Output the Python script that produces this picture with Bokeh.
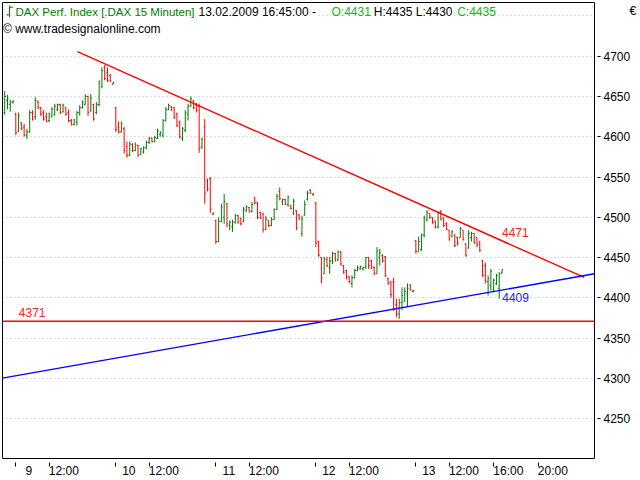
from bokeh.plotting import figure
from bokeh.models import Range1d, FixedTicker, Label, ColumnDataSource, Span, LinearAxis
from bokeh.transform import dodge
from bokeh.embed import file_html
from bokeh.resources import INLINE

# ---------------- data (15-minute bars, index 0 = 09.02.2009 09:00) ----------------
bar_index = list(range(-4, 176))

open_ = [
    4630, 4645, 4640, 4643,
    # 9 Feb
    4628, 4607, 4617, 4612, 4602, 4606, 4630, 4625, 4643, 4636, 4630, 4625,
    4620, 4625, 4628, 4634, 4640, 4631, 4636, 4630, 4620, 4615, 4618, 4630,
    4636, 4640, 4650, 4632, 4640, 4630, 4640, 4662, 4686, 4680, 4676, 4665,
    # 10 Feb
    4636, 4612, 4606, 4610, 4588, 4577, 4590, 4583, 4589, 4578, 4581, 4586,
    4593, 4598, 4594, 4598, 4603, 4602, 4620, 4634, 4637, 4636, 4628, 4618,
    4598, 4608, 4628, 4638, 4645, 4640, 4638, 4587, 4612, 4545, 4548, 4504,
    # 11 Feb
    4496, 4470, 4495, 4500, 4517, 4490, 4488, 4494, 4502, 4498, 4495, 4508,
    4512, 4507, 4525, 4518, 4506, 4504, 4485, 4496, 4490, 4497, 4510, 4532,
    4520, 4522, 4516, 4515, 4505, 4508, 4503, 4480, 4503, 4522, 4534, 4528,
    # 12 Feb
    4518, 4470, 4450, 4430, 4448, 4438, 4446, 4455, 4447, 4457, 4440, 4434,
    4426, 4418, 4425, 4434, 4436, 4436, 4438, 4450, 4446, 4438, 4430, 4450,
    4453, 4451, 4424, 4420, 4420, 4392, 4380, 4394, 4396, 4405, 4416, 4408,
    # 13 Feb
    4471, 4457, 4460, 4478, 4497, 4505, 4500, 4495, 4488, 4507, 4500, 4492,
    4484, 4476, 4478, 4475, 4475, 4484, 4467, 4462, 4475, 4480, 4475, 4468,
    4446, 4440, 4420, 4415, 4410, 4418, 4412, 4431,
]
high = [
    4657, 4652, 4646, 4645,
    4630, 4630, 4618, 4616, 4610, 4633, 4633, 4649, 4645, 4637, 4633, 4630,
    4630, 4637, 4641, 4641, 4641, 4641, 4637, 4634, 4622, 4622, 4632, 4639,
    4645, 4653, 4651, 4653, 4641, 4643, 4670, 4686, 4689, 4686, 4678, 4668,
    4637, 4619, 4619, 4612, 4594, 4594, 4592, 4593, 4590, 4586, 4588, 4595,
    4600, 4599, 4601, 4610, 4607, 4622, 4637, 4641, 4638, 4637, 4630, 4620,
    4612, 4633, 4641, 4650, 4645, 4642, 4641, 4599, 4622, 4548, 4550, 4506,
    4497, 4500, 4517, 4529, 4518, 4496, 4497, 4504, 4503, 4500, 4513, 4515,
    4513, 4519, 4525, 4519, 4507, 4506, 4502, 4496, 4500, 4511, 4529, 4537,
    4523, 4523, 4527, 4515, 4523, 4509, 4504, 4502, 4521, 4533, 4535, 4530,
    4519, 4471, 4451, 4451, 4451, 4451, 4457, 4456, 4459, 4458, 4441, 4435,
    4427, 4428, 4436, 4440, 4440, 4438, 4451, 4451, 4447, 4439, 4463, 4461,
    4454, 4452, 4425, 4421, 4425, 4399, 4399, 4413, 4413, 4418, 4417, 4410,
    4472, 4476, 4480, 4502, 4509, 4505, 4500, 4496, 4507, 4509, 4500, 4494,
    4484, 4484, 4479, 4476, 4488, 4484, 4468, 4484, 4482, 4480, 4475, 4471,
    4447, 4444, 4428, 4436, 4424, 4430, 4432, 4435,
]
low = [
    4627, 4634, 4631, 4641,
    4602, 4606, 4608, 4600, 4597, 4605, 4620, 4621, 4634, 4626, 4620, 4618,
    4618, 4624, 4626, 4632, 4628, 4630, 4626, 4618, 4614, 4614, 4614, 4626,
    4635, 4640, 4626, 4631, 4620, 4628, 4638, 4660, 4670, 4668, 4668, 4665,
    4606, 4604, 4605, 4579, 4574, 4576, 4581, 4582, 4575, 4577, 4579, 4585,
    4591, 4593, 4593, 4597, 4600, 4599, 4619, 4633, 4632, 4622, 4612, 4598,
    4595, 4606, 4620, 4637, 4634, 4630, 4580, 4585, 4517, 4532, 4505, 4503,
    4467, 4469, 4494, 4492, 4488, 4484, 4482, 4492, 4492, 4490, 4494, 4507,
    4506, 4506, 4516, 4498, 4498, 4481, 4484, 4488, 4489, 4497, 4509, 4521,
    4515, 4515, 4513, 4510, 4503, 4484, 4497, 4476, 4502, 4521, 4529, 4527,
    4463, 4451, 4418, 4430, 4438, 4430, 4442, 4445, 4446, 4440, 4430, 4423,
    4418, 4413, 4424, 4433, 4435, 4434, 4436, 4436, 4436, 4428, 4430, 4440,
    4444, 4426, 4416, 4400, 4384, 4376, 4374, 4385, 4395, 4390, 4409, 4407,
    4455, 4457, 4458, 4475, 4495, 4498, 4492, 4486, 4486, 4496, 4488, 4484,
    4471, 4475, 4463, 4465, 4475, 4471, 4451, 4461, 4470, 4467, 4463, 4457,
    4426, 4418, 4403, 4409, 4407, 4416, 4399, 4430,
]
close = [
    4650, 4648, 4643, 4644,
    4605, 4626, 4610, 4602, 4606, 4630, 4622, 4645, 4636, 4628, 4622, 4619,
    4628, 4634, 4638, 4640, 4630, 4639, 4628, 4620, 4615, 4621, 4630, 4636,
    4642, 4650, 4630, 4648, 4622, 4640, 4668, 4682, 4672, 4670, 4669, 4667,
    4609, 4606, 4616, 4583, 4577, 4591, 4583, 4590, 4577, 4585, 4587, 4593,
    4598, 4594, 4599, 4608, 4605, 4620, 4634, 4639, 4633, 4624, 4614, 4600,
    4610, 4630, 4638, 4647, 4636, 4633, 4585, 4597, 4530, 4535, 4510, 4505,
    4470, 4495, 4513, 4520, 4492, 4494, 4494, 4502, 4494, 4492, 4510, 4513,
    4507, 4516, 4518, 4500, 4499, 4485, 4498, 4490, 4497, 4510, 4526, 4523,
    4522, 4516, 4525, 4511, 4520, 4487, 4498, 4498, 4516, 4530, 4530, 4529,
    4468, 4453, 4425, 4448, 4440, 4446, 4455, 4447, 4457, 4442, 4432, 4426,
    4420, 4425, 4434, 4438, 4439, 4438, 4450, 4440, 4437, 4430, 4458, 4456,
    4446, 4428, 4418, 4404, 4386, 4380, 4394, 4403, 4408, 4412, 4410, 4409,
    4458, 4470, 4478, 4500, 4506, 4500, 4494, 4488, 4505, 4498, 4490, 4485,
    4473, 4482, 4465, 4468, 4486, 4473, 4453, 4480, 4480, 4469, 4466, 4459,
    4428, 4422, 4424, 4433, 4422, 4428, 4430, 4435,
]

price_ticks = [4250, 4300, 4350, 4400, 4450, 4500, 4550, 4600, 4650, 4700]
grid_levels = price_ticks + [4750]
currency_label = "\u20ac"
day_labels = ["9", "10", "11", "12", "13"]
day_start_bar = [0, 36, 72, 108, 144]
time_labels = ["12:00", "12:00", "12:00", "12:00", "12:00", "16:00", "20:00"]
time_bar = [12, 48, 84, 120, 156, 172, 188]

# drawn analysis lines (bar index, price)
resistance_x = [22.2, 204.6]
resistance_y = [4705.6, 4425.4]
support_x = [-4.8, 208.3]
support_y = [4300.5, 4430.0]
horizontal_level = 4371
resistance_label = "4471"
support_label = "4409"
horizontal_label = "4371"

# header runs: text, colour, left offset in frame pixels, font size
header_parts = [
    ("DAX Perf. Index [.DAX 15 Minuten]", "#007a00", 13, "11.5px"),
    ("13.02.2009 16:45:00 -", "#000000", 196, "12px"),
    ("O:4431", "#00c000", 329, "12px"),
    ("H:4435 L:4430", "#000000", 371.3, "12px"),
    ("C:4435", "#00c000", 454.7, "12px"),
]
copyright_text = "\u00a9 www.tradesignalonline.com"

# ---------------- figure ----------------
W, H = 640, 480
MB_L, MB_R, MB_T, MB_B = 2, 46, 2, 22
FW, FH = W - MB_L - MB_R, H - MB_T - MB_B
XMIN, XMAX = -4.79, 208.3
YMIN, YMAX = 4200.7, 4766.6
FONT = "Liberation Sans"

p = figure(width=W, height=H, x_range=Range1d(XMIN, XMAX), y_range=Range1d(YMIN, YMAX),
           y_axis_location="right", output_backend="svg", toolbar_location=None,
           min_border_left=MB_L, min_border_right=MB_R, min_border_top=MB_T,
           min_border_bottom=MB_B, background_fill_color="white",
           border_fill_color="white", outline_line_color="black", outline_line_width=1)

px_per_bar = FW / (XMAX - XMIN)
px_per_point = FH / (YMAX - YMIN)

# bottom axis: visible minor ticks at day/time marks, labels (major) shifted right
tick_pos = day_start_bar + time_bar
label_pos, label_txt = [], []
for b, t in zip(day_start_bar, day_labels):
    label_pos.append(b + 13 / px_per_bar)
    label_txt.append(t)
for b, t in zip(time_bar, time_labels):
    label_pos.append(b + 14.7 / px_per_bar)
    label_txt.append(t)

xa = p.xaxis[0]
xa.ticker = FixedTicker(ticks=label_pos, minor_ticks=tick_pos)
xa.major_label_overrides = {pos: txt for pos, txt in zip(label_pos, label_txt)}
xa.major_tick_line_color = None
xa.major_tick_in = 0
xa.major_tick_out = 0
xa.minor_tick_in = -4
xa.minor_tick_out = 8
xa.minor_tick_line_color = "black"
xa.axis_line_color = None
xa.major_label_standoff = -3
xa.major_label_text_font = FONT
xa.major_label_text_font_size = "12px"
xa.major_label_text_color = "black"

ya = p.yaxis[0]
ya.ticker = FixedTicker(ticks=price_ticks)
ya.major_tick_in = -3
ya.major_tick_out = 6
ya.minor_tick_line_color = None
ya.axis_line_color = None
ya.major_label_standoff = 3
ya.major_label_text_font = FONT
ya.major_label_text_font_size = "12px"
ya.major_label_text_color = "black"

# currency sign above the price scale (second right axis carrying one label)
cur_pos = YMAX - 8 / px_per_point
ya2 = LinearAxis(ticker=FixedTicker(ticks=[cur_pos]),
                 major_label_overrides={cur_pos: currency_label},
                 major_tick_line_color=None, major_tick_in=0, major_tick_out=0,
                 minor_tick_line_color=None, axis_line_color=None,
                 major_label_standoff=-4, major_label_text_font=FONT,
                 major_label_text_font_size="12px", major_label_text_color="black")
p.add_layout(ya2, "right")

p.xgrid.visible = False
p.ygrid.ticker = FixedTicker(ticks=grid_levels)
p.ygrid.grid_line_color = "#bdbdbd"
p.ygrid.grid_line_dash = "1 3"

# ---------------- OHLC bars ----------------
colors = ["#007a00" if c >= o else "#ff0000" for o, c in zip(open_, close)]
src = ColumnDataSource(dict(x=bar_index, o=open_, h=high, l=low, c=close, col=colors))
w = 0.42
p.segment(x0="x", y0="l", x1="x", y1="h", line_color="col", line_width=1, source=src)
p.segment(x0=dodge("x", -w), y0="o", x1="x", y1="o", line_color="col", line_width=1, source=src)
p.segment(x0="x", y0="c", x1=dodge("x", w), y1="c", line_color="col", line_width=1, source=src)

# ---------------- analysis lines ----------------
p.add_layout(Span(location=horizontal_level, dimension="width", line_color="#ff0000", line_width=1.6))
p.line(resistance_x, resistance_y, line_color="#ff0000", line_width=1.4)
p.line(support_x, support_y, line_color="#0000ff", line_width=1.4)

p.add_layout(Label(x=179.8, y=4481, text=resistance_label, text_color="#ff2020",
                   text_align="center", text_baseline="middle", text_font=FONT,
                   text_font_size="12px"))
p.add_layout(Label(x=179.9, y=4400.2, text=support_label, text_color="#2020ff",
                   text_align="center", text_baseline="middle", text_font=FONT,
                   text_font_size="12px"))
p.add_layout(Label(x=5.9, y=4381.6, text=horizontal_label, text_color="#ff2020",
                   text_align="center", text_baseline="middle", text_font=FONT,
                   text_font_size="12px"))

# ---------------- header ----------------
for txt, col, xpos, fs in header_parts:
    p.add_layout(Label(x=xpos, y=FH - 9, x_units="screen", y_units="screen", text=txt,
                       text_color=col, text_font=FONT, text_font_size=fs,
                       text_baseline="middle", text_align="left",
                       background_fill_color="white"))
p.add_layout(Label(x=0.5, y=FH - 26, x_units="screen", y_units="screen", text=copyright_text,
                   text_color="black", text_font=FONT, text_font_size="12px",
                   text_baseline="middle", text_align="left"))

# small OHLC icon in the header (pixel offsets -> data)
def px_x(px):
    return XMIN + px / px_per_bar

def px_y(py):
    return YMAX - py / px_per_point

p.segment(x0=[px_x(7), px_x(4), px_x(7)], y0=[px_y(3), px_y(12.3), px_y(4.7)],
          x1=[px_x(7), px_x(7), px_x(10.7)], y1=[px_y(14.5), px_y(12.3), px_y(4.7)],
          line_color="#007a00", line_width=1)

open("out.html", "w").write(file_html(p, INLINE))
